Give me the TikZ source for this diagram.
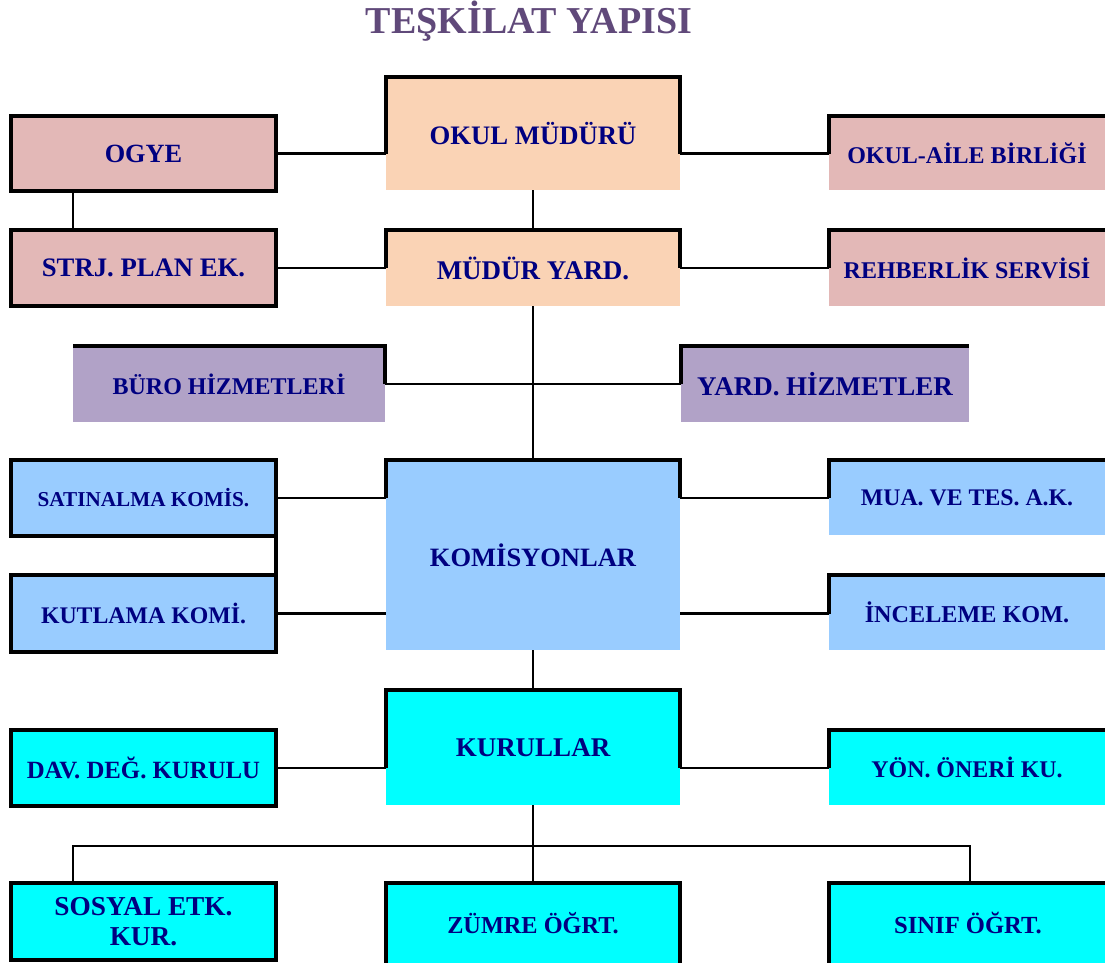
\documentclass[tikz,border=0pt]{standalone}
\usepackage{fontspec}
\setmainfont{Liberation Serif}
\definecolor{pinkc}{RGB}{227,184,183}
\definecolor{peachc}{RGB}{250,211,181}
\definecolor{lavc}{RGB}{177,162,199}
\definecolor{bluec}{RGB}{153,204,255}
\definecolor{cyanc}{RGB}{0,255,255}
\definecolor{navyc}{RGB}{0,0,128}
\definecolor{titlec}{RGB}{96,73,122}
\begin{document}
\begin{tikzpicture}[x=1pt,y=-1pt,
  box/.style={rectangle, anchor=north west, inner sep=0pt, outer sep=0pt, text=navyc, align=center},
  fullbox/.style={box, draw=black, line width=3.5pt},
  fs/.style={font=\bfseries\fontsize{#1}{30}\selectfont},
  bord/.style={line width=3.5pt, line join=miter},
  conn/.style={line width=2.5pt}]
\useasboundingbox (0,0) rectangle (1105,962);
\clip (0,0) rectangle (1105,962);
\node[font=\bfseries\fontsize{38}{40}\selectfont, text=titlec, anchor=base] (title) at (529,33) {TEŞKİLAT YAPISI};

\node[fullbox, fill=pinkc, fs=26.3, minimum width=265, minimum height=75] (ogye) at (11,116) {OGYE};
\node[fullbox, fill=pinkc, fs=26.7, minimum width=265, minimum height=76] (strj) at (11,230) {STRJ. PLAN EK.};
\node[box, fill=peachc, fs=26.7, minimum width=294, minimum height=113] (mudur) at (386,77) {OKUL MÜDÜRÜ};
\node[box, fill=peachc, fs=27, minimum width=294, minimum height=76] (myard) at (386,230) {MÜDÜR YARD.};
\node[box, fill=pinkc, fs=24, minimum width=276, minimum height=74] (aile) at (829,116) {OKUL-AİLE BİRLİĞİ};
\node[box, fill=pinkc, fs=24, minimum width=276, minimum height=76] (rehber) at (829,230) {REHBERLİK SERVİSİ};
\node[box, fill=lavc, fs=24, minimum width=312, minimum height=76] (buro) at (73,346) {BÜRO HİZMETLERİ};
\node[box, fill=lavc, fs=27, minimum width=288, minimum height=76] (yardh) at (681,346) {YARD. HİZMETLER};
\node[fullbox, fill=bluec, fs=21.2, minimum width=265, minimum height=76] (satin) at (11,460) {SATINALMA KOMİS.};
\node[fullbox, fill=bluec, fs=23.8, minimum width=265, minimum height=77] (kutla) at (11,575) {KUTLAMA KOMİ.};
\node[box, fill=bluec, fs=26.5, minimum width=294, minimum height=190] (komis) at (386,460) {KOMİSYONLAR};
\node[box, fill=bluec, fs=23.8, minimum width=276, minimum height=75] (mua) at (829,460) {MUA. VE TES. A.K.};
\node[box, fill=bluec, fs=24.2, minimum width=276, minimum height=75] (incel) at (829,575) {İNCELEME KOM.};
\node[box, fill=cyanc, fs=27, minimum width=294, minimum height=115] (kurul) at (386,690) {KURULLAR};
\node[fullbox, fill=cyanc, fs=24.8, minimum width=265, minimum height=76] (dav) at (11,730) {DAV. DEĞ. KURULU};
\node[box, fill=cyanc, fs=23.9, minimum width=276, minimum height=75] (yon) at (829,730) {YÖN. ÖNERİ KU.};
\node[fullbox, fill=cyanc, fs=27.3, minimum width=265, minimum height=77] (sosyal) at (11,883) {SOSYAL ETK.\\KUR.};
\node[box, fill=cyanc, fs=24.3, minimum width=294, minimum height=80] (zumre) at (386,883) {ZÜMRE ÖĞRT.};
\node[box, fill=cyanc, fs=24.6, minimum width=278, minimum height=80] (sinif) at (829,883) {SINIF ÖĞRT.};

% partial borders
\draw[bord] (mudur.west |- ogye.east) -- (mudur.north west) -- (mudur.north east) -- (mudur.east |- ogye.east);
\draw[bord] (aile.west |- ogye.east) -- (aile.north west) -- (aile.north east);
\draw[bord] (myard.west |- strj.east) -- (myard.north west) -- (myard.north east) -- (myard.east |- strj.east);
\draw[bord] (rehber.west |- strj.east) -- (rehber.north west) -- (rehber.north east);
\draw[bord] (buro.north west) -- (buro.north east) -- (buro.east);
\draw[bord] (yardh.west) -- (yardh.north west) -- (yardh.north east);
\draw[bord] (komis.west |- satin.east) -- (komis.north west) -- (komis.north east) -- (komis.east |- satin.east);
\draw[bord] (mua.west |- satin.east) -- (mua.north west) -- (mua.north east);
\draw[bord] (incel.west |- kutla.east) -- (incel.north west) -- (incel.north east);
\draw[bord] (kurul.west |- dav.east) -- (kurul.north west) -- (kurul.north east) -- (kurul.east |- dav.east);
\draw[bord] (yon.west |- dav.east) -- (yon.north west) -- (yon.north east);
\draw[bord] (zumre.south west) -- (zumre.north west) -- (zumre.north east) -- (zumre.south east);
\draw[bord] (sinif.south west) -- (sinif.north west) -- (sinif.north east);

% connectors
\draw[conn] (ogye.east) -- (mudur.west |- ogye.east);
\draw[conn] (mudur.east |- ogye.east) -- (aile.west |- ogye.east);
\draw[conn] ([xshift=62pt]ogye.south west) -- ([xshift=62pt]strj.north west);
\draw[conn] (mudur.south) -- (myard.north);
\draw[conn] (strj.east) -- (myard.west |- strj.east);
\draw[conn] (myard.east |- strj.east) -- (rehber.west |- strj.east);
\draw[conn] (myard.south) -- (komis.north);
\draw[conn] (buro.east) -- (yardh.west);
\draw[conn] (satin.east) -- (komis.west |- satin.east);
\draw[conn] (komis.east |- satin.east) -- (mua.west |- satin.east);
\draw[bord] (satin.south east) -- (kutla.north east);
\draw[conn] (kutla.east) -- (komis.west |- kutla.east);
\draw[conn] (komis.east |- kutla.east) -- (incel.west |- kutla.east);
\draw[conn] (komis.south) -- (kurul.north);
\draw[conn] (dav.east) -- (kurul.west |- dav.east);
\draw[conn] (kurul.east |- dav.east) -- (yon.west |- dav.east);
\coordinate (bus) at (534,846);
\draw[conn] (kurul.south) -- (zumre.north);
\draw[conn] ([xshift=62pt]sosyal.north west) |- (bus) -| ([xshift=2pt]sinif.north);
\end{tikzpicture}
\end{document}
